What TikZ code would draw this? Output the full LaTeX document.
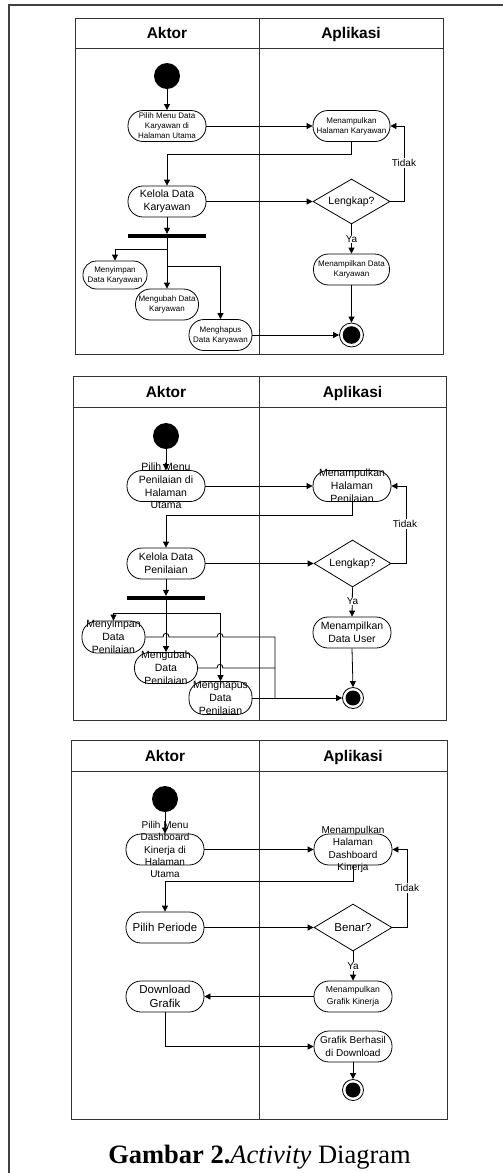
\documentclass[tikz,border=0pt]{standalone}
\usepackage{fontspec}
\setmainfont{Liberation Sans}
\newfontfamily\capfont{Liberation Serif}
\usetikzlibrary{shapes.geometric,arrows.meta}
\tikzset{
  ln/.style={line width=0.8pt, draw=black},
  arr/.style={ln, -{Triangle[length=6pt,width=6pt]}},
  act/.style={draw, line width=0.8pt, rounded corners=15pt, minimum width=78pt, minimum height=31pt, inner sep=0pt},
  dec/.style={draw, diamond, line width=0.8pt, minimum width=77pt, minimum height=46pt, inner sep=0pt},
  startnode/.style={circle, fill=black, minimum size=26pt, inner sep=0pt},
  endouter/.style={circle, draw, line width=0.8pt, fill=white, minimum size=22pt, inner sep=0pt},
  forkbar/.style={fill=black, minimum width=78pt, minimum height=4pt, inner sep=0pt},
  lane/.style={draw=black!80, line width=0.9pt},
  hdr/.style={font=\fontsize{15.5}{18}\selectfont\bfseries, text height=11pt, text depth=0pt, inner sep=0pt},
  sm/.style={font=\fontsize{8}{10}\selectfont, align=center, inner sep=0pt},
  md/.style={font=\fontsize{10.5}{12.8}\selectfont, align=center, inner sep=0pt},
  mdb/.style={font=\fontsize{10}{12.4}\selectfont, align=center, inner sep=0pt},
  lg/.style={font=\fontsize{11.5}{13.5}\selectfont, align=center, inner sep=0pt},
  guard/.style={fill=white, inner sep=1pt, font=\fontsize{10}{12}\selectfont},
}
\begin{document}
\begin{tikzpicture}[x=1pt,y=-1pt]
\useasboundingbox (0,0) rectangle (503,1173);
% page frame
\draw[line width=2pt, black!75] (9,1173) -- (9,5) -- (503,5);

% ================= Diagram 1 =================
\draw[lane] (75,18) rectangle (443,354);
\draw[lane] (75,48) -- (443,48);
\draw[lane] (259,18) -- (259,354);
\node[hdr] (h1a) at (167,33) {Aktor};
\node[hdr] (h1b) at (351,33) {Aplikasi};

\node[startnode] (s1) at (167,76) {};
\node[act, label={[sm]center:{Pilih Menu Data\\Karyawan di\\Halaman Utama}}] (p1) at (167,126) {};
\node[act, minimum width=77pt, label={[sm]center:{Menampulkan\\Halaman Karyawan}}] (m1) at (351.5,126) {};
\node[act, label={[md]center:{Kelola Data\\Karyawan}}] (k1) at (167,201.5) {};
\node[dec, minimum height=45pt, label={[md]center:{Lengkap?}}] (d1) at (351.5,201.5) {};
\node[forkbar] (f1) at (167,236) {};
\node[act, minimum width=64pt, minimum height=28pt, rounded corners=13.5pt, label={[sm]center:{Menyimpan\\Data Karyawan}}] (a1) at (115,275) {};
\node[act, minimum width=63pt, label={[sm]center:{Mengubah Data\\Karyawan}}] (b1) at (167,304.5) {};
\node[act, minimum width=63pt, label={[sm]center:{Menghapus\\Data Karyawan}}] (c1) at (220.5,335) {};
\node[act, minimum width=76pt, label={[sm]center:{Menampilkan Data\\Karyawan}}] (n1) at (351.5,269.5) {};
\node[endouter, minimum size=24pt] (e1) at (351.5,335) {};
\fill (e1.center) circle (8.8pt);
\coordinate (j1a) at (167,249);
\coordinate (j1b) at (167,266);

\draw[arr] (s1.south) -- (p1.north);
\draw[arr] (p1.east) -- (m1.west);
\draw[arr] (m1.south) -- ++(0,12) -| (k1.north);
\draw[arr] (k1.east) -- (d1.west);
\draw[arr] (d1.east) -- ++(14,0) |- (m1.east);
\node[guard] (t1) at (404,163) {Tidak};
\draw[arr] (d1.south) -- (n1.north);
\node[guard] (y1) at (351.5,239) {Ya};
\draw[arr] (n1.south) -- (e1.north);
\draw[arr] (k1.south) -- (f1.north);
\draw[arr] (f1.south) -- (b1.north);
\draw[arr] (j1a) -| (a1.north);
\draw[arr] (j1b) -| (c1.north);
\draw[arr] (c1.east) -- (e1.west);

% ================= Diagram 2 =================
\draw[lane] (73,376) rectangle (446,720);
\draw[lane] (73,407) -- (446,407);
\draw[lane] (259,376) -- (259,720);
\node[hdr] (h2a) at (166,391.5) {Aktor};
\node[hdr] (h2b) at (352.5,391.5) {Aplikasi};

\node[startnode] (s2) at (166,436) {};
\node[act, label={[md]center:{Pilih Menu\\Penilaian di\\Halaman\\Utama}}] (p2) at (166,486) {};
\node[act, label={[md]center:{Menampulkan\\Halaman\\Penilaian}}] (m2) at (352,486) {};
\node[act, label={[md]center:{Kelola Data\\Penilaian}}] (k2) at (166,563.5) {};
\node[dec, minimum height=47pt, label={[md]center:{Lengkap?}}] (d2) at (352.5,563.5) {};
\node[forkbar] (f2) at (166,598) {};
\node[act, label={[md]center:{Menampilkan\\Data User}}] (n2) at (352,632.5) {};
\node[endouter, minimum size=21pt] (e2) at (353,698) {};
\fill (e2.center) circle (7.5pt);
\node[act, minimum width=63pt, minimum height=32pt, label={[md]center:{Menyimpan\\Data\\Penilaian}}] (a2) at (113.5,637) {};
\node[act, minimum width=63pt, label={[md]center:{Mengubah\\Data\\Penilaian}}] (b2) at (166,668) {};
\node[act, minimum width=63pt, minimum height=33pt, label={[md]center:{Menghapus\\Data\\Penilaian}}] (c2) at (220.5,698) {};
\coordinate (j2) at (166,613);

\draw[arr] (s2.south) -- (p2.north);
\draw[arr] (p2.east) -- (m2.west);
\draw[arr] (m2.south) -- ++(0,13) -| (k2.north);
\draw[arr] (k2.east) -- (d2.west);
\draw[arr] (d2.east) -- ++(15,0) |- (m2.east);
\node[guard] (t2) at (405,524) {Tidak};
\draw[arr] (d2.south) -- (n2.north);
\node[guard] (y2) at (352.5,601) {Ya};
\draw[arr] (n2.south) -- (e2.north);
\draw[arr] (k2.south) -- (f2.north);
\draw[arr] (f2.south) -- (b2.north);
\draw[arr] (j2) -| (a2.north);
\draw[arr] (j2) -| (c2.north);
\draw[ln] (a2.east) -- (163,637) .. controls (163,632) and (169,632) .. (169,637)
  -- (217,637) .. controls (217,632) and (223,632) .. (223,637) -- (275,637) -- (275,698);
\draw[ln] (b2.east) -- (217,668) .. controls (217,663) and (223,663) .. (223,668) -- (275,668);
\draw[arr] (c2.east) -- (e2.west);

% ================= Diagram 3 =================
\draw[lane] (71,740) rectangle (447,1119);
\draw[lane] (71,771) -- (447,771);
\draw[lane] (259,740) -- (259,1119);
\node[hdr] (h3a) at (165,755.5) {Aktor};
\node[hdr] (h3b) at (353,755.5) {Aplikasi};

\node[startnode] (s3) at (165,799) {};
\node[act, label={[mdb]center:{Pilih Menu\\Dashboard\\Kinerja di\\Halaman\\Utama}}] (p3) at (165,849.5) {};
\node[act, label={[mdb]center:{Menampulkan\\Halaman\\Dashboard\\Kinerja}}] (m3) at (353,849.5) {};
\node[act, label={[lg]center:{Pilih Periode}}] (q3) at (165,927.5) {};
\node[dec, minimum width=78pt, minimum height=47pt, label={[lg]center:{Benar?}}] (d3) at (353,927.5) {};
\node[act, label={[font=\fontsize{8.6}{11.5}\selectfont, align=center, inner sep=0pt]center:{Menampulkan\\Grafik Kinerja}}] (g3) at (353,996.5) {};
\node[act, label={[lg]center:{Download\\Grafik}}] (w3) at (165,996.5) {};
\node[act, label={[mdb]center:{Grafik Berhasil\\di Download}}] (r3) at (353,1046.5) {};
\node[endouter, minimum size=21pt] (e3) at (353,1090) {};
\fill (e3.center) circle (7.5pt);

\draw[arr] (s3.south) -- (p3.north);
\draw[arr] (p3.east) -- (m3.west);
\draw[arr] (m3.south) -- ++(0,16) -| (q3.north);
\draw[arr] (q3.east) -- (d3.west);
\draw[arr] (d3.east) -- ++(15,0) |- (m3.east);
\node[guard] (t3) at (407,888) {Tidak};
\draw[arr] (d3.south) -- (g3.north);
\node[guard] (y3) at (353,966) {Ya};
\draw[arr] (g3.west) -- (w3.east);
\draw[arr] (w3.south) |- (r3.west);
\draw[arr] (r3.south) -- (e3.north);

% caption
\node[anchor=base, font=\capfont\fontsize{26.5}{30}\selectfont, inner sep=0pt] (cap) at (259.5,1163) {\textbf{Gambar 2.}\textit{Activity} Diagram};
\end{tikzpicture}
\end{document}
